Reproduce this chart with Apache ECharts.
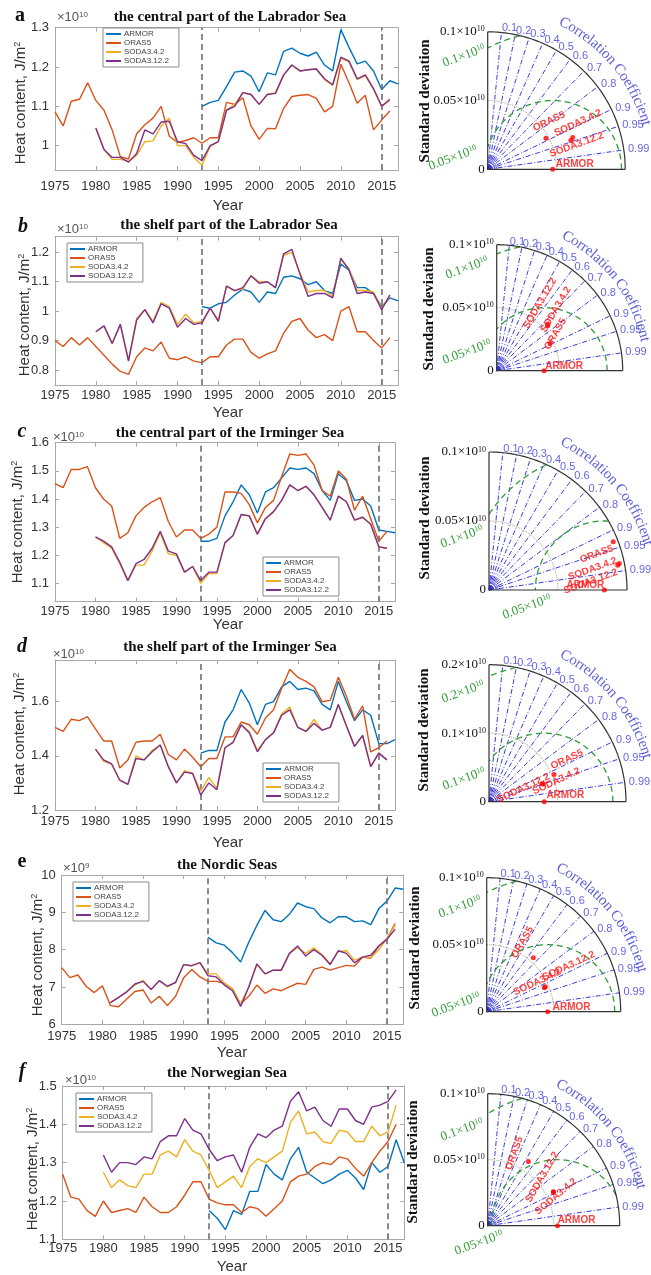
<!DOCTYPE html>
<html><head><meta charset="utf-8">
<script src="https://cdn.jsdelivr.net/npm/echarts@6/dist/echarts.min.js"></script>
<style>html,body{margin:0;padding:0;background:#fff}#c{width:651px;height:1275px}</style>
</head><body><div id="c"></div>
<script>
// ---------------- DATA ----------------
const modelNames = ['ARMOR', 'ORAS5', 'SODA3.4.2', 'SODA3.12.2'];
const armorStart = 1993, orasStart = 1975, sodaStart = 1980, sodaStartE = 1981;
const xTicks = [1975, 1980, 1985, 1990, 1995, 2000, 2005, 2010, 2015];
const dashedYears = [1993, 2015];
const corrTicks = [0.1, 0.2, 0.3, 0.4, 0.5, 0.6, 0.7, 0.8, 0.9, 0.95, 0.99];

// a: central Labrador Sea (x1e10)
const armorA = [1.10,1.11,1.115,1.15,1.187,1.19,1.177,1.137,1.185,1.18,1.24,1.248,1.235,1.228,1.238,1.205,1.19,1.295,1.25,1.208,1.215,1.19,1.143,1.165,1.157];
const orasA = [1.086,1.05,1.113,1.118,1.16,1.115,1.09,1.04,0.972,0.966,1.03,1.053,1.07,1.10,1.024,1.008,1.013,1.02,1.006,1.02,1.02,1.11,1.105,1.122,1.05,1.016,1.044,1.043,1.095,1.125,1.128,1.13,1.12,1.086,1.10,1.207,1.16,1.108,1.128,1.04,1.065,1.088];
const soda342A = [1.045,0.99,0.965,0.965,0.96,0.975,1.01,1.012,1.05,1.07,1.0,1.0,0.97,0.95,0.998,1.01,1.09,1.105,1.135,1.13,1.105,1.13,1.135,1.18,1.205,1.19,1.193,1.195,1.168,1.153,1.222,1.213,1.168,1.178,1.143,1.10,1.115];
const soda3122A = [1.045,0.99,0.97,0.97,0.958,0.98,1.04,1.03,1.06,1.062,1.01,1.005,0.975,0.962,1.0,1.01,1.09,1.10,1.135,1.13,1.105,1.13,1.133,1.18,1.205,1.19,1.193,1.195,1.17,1.155,1.225,1.215,1.17,1.18,1.145,1.10,1.118];
const yTicksA = [1, 1.1, 1.2, 1.3];

// b: shelf Labrador Sea
const armorB = [1.015,1.01,1.025,1.03,1.055,1.075,1.065,1.03,1.065,1.06,1.115,1.12,1.11,1.09,1.10,1.07,1.06,1.16,1.14,1.08,1.08,1.06,1.015,1.045,1.035];
const orasB = [0.90,0.88,0.91,0.885,0.91,0.88,0.85,0.82,0.795,0.785,0.845,0.875,0.865,0.895,0.84,0.835,0.845,0.83,0.825,0.845,0.845,0.885,0.905,0.905,0.86,0.84,0.855,0.865,0.925,0.965,0.975,0.935,0.91,0.92,0.90,1.0,1.015,0.93,0.93,0.90,0.875,0.91];
const soda342B = [0.93,0.95,0.89,0.955,0.835,0.975,1.005,0.965,1.03,1.015,0.955,0.99,0.96,0.965,1.01,0.97,1.085,1.07,1.075,1.12,1.10,1.10,1.08,1.19,1.20,1.13,1.065,1.07,1.07,1.05,1.175,1.145,1.07,1.07,1.065,1.01,1.05];
const soda3122B = [0.93,0.95,0.89,0.955,0.83,0.97,1.005,0.96,1.025,1.01,0.945,0.975,0.955,0.96,1.01,0.965,1.085,1.07,1.08,1.12,1.095,1.10,1.08,1.195,1.21,1.125,1.05,1.06,1.06,1.045,1.18,1.14,1.06,1.065,1.06,1.005,1.055];
const yTicksB = [0.8, 0.9, 1, 1.1, 1.2];

// c: central Irminger Sea
const armorC = [1.25,1.25,1.26,1.34,1.39,1.45,1.415,1.35,1.425,1.44,1.475,1.51,1.505,1.51,1.49,1.43,1.395,1.49,1.465,1.395,1.40,1.375,1.29,1.285,1.28];
const orasC = [1.455,1.44,1.505,1.505,1.515,1.44,1.40,1.375,1.26,1.28,1.34,1.37,1.39,1.405,1.32,1.265,1.29,1.29,1.26,1.275,1.30,1.425,1.425,1.42,1.38,1.315,1.37,1.395,1.48,1.56,1.555,1.56,1.52,1.43,1.41,1.50,1.47,1.36,1.41,1.33,1.25,1.285];
const soda342C = [1.265,1.245,1.225,1.17,1.11,1.165,1.165,1.215,1.28,1.205,1.20,1.14,1.16,1.10,1.135,1.135,1.245,1.27,1.345,1.34,1.275,1.33,1.355,1.395,1.45,1.43,1.445,1.415,1.37,1.325,1.41,1.39,1.325,1.335,1.31,1.23,1.225];
const soda3122C = [1.265,1.25,1.23,1.175,1.11,1.17,1.185,1.225,1.285,1.215,1.205,1.14,1.16,1.11,1.14,1.14,1.245,1.27,1.345,1.34,1.275,1.33,1.355,1.395,1.45,1.43,1.445,1.415,1.37,1.325,1.41,1.39,1.325,1.335,1.31,1.23,1.225];
const yTicksC = [1.1, 1.2, 1.3, 1.4, 1.5, 1.6];

// d: shelf Irminger Sea
const armorD = [1.41,1.42,1.42,1.525,1.57,1.645,1.595,1.515,1.59,1.60,1.655,1.675,1.645,1.65,1.64,1.59,1.57,1.675,1.60,1.53,1.57,1.55,1.445,1.445,1.46];
const orasD = [1.505,1.49,1.535,1.53,1.545,1.50,1.455,1.455,1.355,1.385,1.45,1.455,1.455,1.48,1.405,1.385,1.425,1.395,1.36,1.39,1.39,1.47,1.47,1.525,1.515,1.48,1.54,1.57,1.65,1.72,1.69,1.675,1.655,1.60,1.605,1.69,1.62,1.535,1.585,1.415,1.43,1.455];
const soda342D = [1.425,1.38,1.37,1.31,1.295,1.40,1.385,1.42,1.44,1.36,1.30,1.345,1.335,1.27,1.32,1.28,1.43,1.45,1.515,1.49,1.42,1.46,1.485,1.555,1.58,1.505,1.49,1.535,1.495,1.505,1.59,1.51,1.435,1.475,1.36,1.41,1.385];
const soda3122D = [1.425,1.385,1.37,1.31,1.295,1.39,1.385,1.415,1.44,1.36,1.30,1.34,1.335,1.255,1.30,1.275,1.43,1.45,1.515,1.485,1.415,1.46,1.485,1.55,1.57,1.505,1.49,1.52,1.495,1.505,1.59,1.51,1.435,1.475,1.36,1.41,1.385];
const yTicksD = [1.2, 1.4, 1.6];

// e: Nordic Seas (x1e9)
const armorE = [8.33,8.18,8.12,7.92,7.67,8.2,8.65,9.05,8.8,8.75,8.95,9.25,9.15,9.1,8.85,8.72,8.88,8.88,8.75,8.77,8.67,9.1,9.3,9.65,9.62];
const orasE = [7.52,7.25,7.32,7.02,6.85,7.03,6.5,6.47,6.68,6.88,6.92,6.57,6.75,6.50,6.75,7.25,7.47,7.27,7.15,7.15,7.1,6.95,6.55,6.75,7.05,6.83,6.95,6.9,7.0,7.1,7.07,7.47,7.53,7.45,7.52,7.58,7.56,7.8,7.77,8.1,8.3,8.7];
const soda342E = [6.58,6.72,6.87,7.05,7.18,6.93,7.17,7.0,7.12,7.6,7.57,7.65,7.35,7.35,7.1,6.95,6.55,7.0,7.6,7.35,7.45,7.45,7.9,8.05,7.9,8.05,7.87,7.62,7.95,7.97,7.72,7.8,7.78,8.0,8.3,8.65];
const soda3122E = [6.58,6.72,6.87,7.08,7.15,6.93,7.17,7.02,7.12,7.6,7.57,7.65,7.3,7.27,7.05,6.9,6.48,7.0,7.62,7.35,7.45,7.45,7.9,8.1,7.83,8.0,7.85,7.6,7.97,7.9,7.65,7.8,7.85,8.1,8.28,8.55];
const yTicksE = [6, 7, 8, 9, 10];

// f: Norwegian Sea
const armorF = [1.175,1.155,1.125,1.175,1.165,1.225,1.225,1.295,1.27,1.255,1.31,1.34,1.275,1.26,1.245,1.255,1.27,1.28,1.26,1.23,1.30,1.275,1.29,1.36,1.30];
const orasF = [1.27,1.21,1.205,1.175,1.16,1.20,1.17,1.175,1.18,1.17,1.21,1.185,1.17,1.17,1.185,1.215,1.25,1.25,1.205,1.195,1.19,1.19,1.17,1.185,1.18,1.16,1.18,1.20,1.25,1.265,1.27,1.29,1.30,1.295,1.315,1.31,1.285,1.265,1.30,1.33,1.355,1.40];
const soda342F = [1.275,1.235,1.255,1.24,1.235,1.27,1.27,1.32,1.33,1.315,1.36,1.33,1.32,1.28,1.235,1.25,1.265,1.235,1.29,1.31,1.30,1.315,1.33,1.405,1.435,1.375,1.38,1.355,1.35,1.385,1.38,1.355,1.355,1.395,1.37,1.38,1.45];
const soda3122F = [1.32,1.275,1.30,1.30,1.295,1.315,1.31,1.355,1.37,1.37,1.415,1.385,1.375,1.335,1.305,1.315,1.32,1.275,1.34,1.375,1.365,1.385,1.395,1.46,1.485,1.435,1.445,1.41,1.395,1.44,1.44,1.41,1.40,1.445,1.45,1.46,1.49];
const yTicksF = [1.1, 1.2, 1.3, 1.4, 1.5];

// Taylor diagrams: std (x1e10) and correlation, order = modelNames
const taylorStdA = [0.0473, 0.048, 0.066, 0.064];   const taylorCorrA = [1, 0.883, 0.937, 0.945];
const taylorStdB = [0.0376, 0.0475, 0.054, 0.0549]; const taylorCorrB = [1, 0.89, 0.75, 0.738];
const taylorStdC = [0.0836, 0.0966, 0.0964, 0.095]; const taylorCorrC = [1, 0.932, 0.98, 0.982];
const taylorStdD = [0.0807, 0.103, 0.0834, 0.082];  const taylorCorrD = [1, 0.922, 0.951, 0.948];
const taylorStdE = [0.0455, 0.0532, 0.0466, 0.0475];const taylorCorrE = [1, 0.654, 0.923, 0.92];
const taylorStdF = [0.0529, 0.0575, 0.056, 0.0561]; const taylorCorrF = [1, 0.536, 0.89, 0.888];
const taylorMax = [0.1, 0.1, 0.1, 0.2, 0.1, 0.1];
const rmsRadii = [[0.1, 0.05], [0.1, 0.05], [0.1, 0.05], [0.2, 0.1], [0.1, 0.05], [0.1, 0.05]];

// ---------------- STYLE / LAYOUT ----------------
const SANS = '"Liberation Sans", Arial, sans-serif';
const SERIF = '"Liberation Serif", "Times New Roman", serif';
const modelColors = ['#0072BD', '#D95319', '#EDB120', '#7E2F8E'];
const AX = '#a8a8a8';

const panels = [
  {letter:'a', italic:false, title:'the central part of the Labrador Sea', exp:'10',
   vals:[armorA, orasA, soda342A, soda3122A], sStart:sodaStart, yMin:0.938, yMax:1.3, yTicks:yTicksA,
   box:[55,27.7,343,142.3], lm:10, legend:[103,28], titlePos:[230,17], letterPos:[20,16], expPos:[57,17], yearPos:[228,206], heatPos:[21,103],
   tay:{std:taylorStdA, corr:taylorCorrA, o:[487.7,169.3], R:137.5, green:[[464,56],[453,158]], sd:[425,101],
        lab:[[0,22,-5],[25,10,-14],[25,11,-11],[20,4,6]]}},
  {letter:'b', italic:true, title:'the shelf part of the Labrador Sea', exp:'10',
   vals:[armorB, orasB, soda342B, soda3122B], sStart:sodaStart, yMin:0.749, yMax:1.253, yTicks:yTicksB,
   box:[55,236.7,343,148.3], lm:4, legend:[67,243], titlePos:[229,225], letterPos:[23,227], expPos:[57,229], yearPos:[228,413], heatPos:[25,315],
   tay:{std:taylorStdB, corr:taylorCorrB, o:[496.7,370.7], R:126, green:[[467,268],[467,352]], sd:[429,309],
        lab:[[0,20,-4],[60,11,0],[60,18,-1],[60,14,-17]]}},
  {letter:'c', italic:true, title:'the central part of the Irminger Sea', exp:'10',
   vals:[armorC, orasC, soda342C, soda3122C], sStart:sodaStart, yMin:1.035, yMax:1.6, yTicks:yTicksC,
   box:[55,442.7,340,159], lm:3, legend:[263,557], titlePos:[230,433], letterPos:[22,432], expPos:[53,437], yearPos:[228,625], heatPos:[18,522],
   tay:{std:taylorStdC, corr:taylorCorrC, o:[489,590], R:138, green:[[462,537],[527,607]], sd:[425,518],
        lab:[[0,-19,-5],[20,-20,6],[20,-27,-4],[20,-31,6]]}},
  {letter:'d', italic:true, title:'the shelf part of the Irminger Sea', exp:'10',
   vals:[armorD, orasD, soda342D, soda3122D], sStart:sodaStart, yMin:1.2, yMax:1.754, yTicks:yTicksD,
   box:[55,660,340,150], lm:5, legend:[263,763], titlePos:[230,647], letterPos:[22,647], expPos:[53,654], yearPos:[228,843], heatPos:[20,734],
   tay:{std:taylorStdD, corr:taylorCorrD, o:[489,801.7], R:137, green:[[463,692],[464,779]], sd:[424,730],
        lab:[[0,21,-6],[25,18,-8],[25,13,3],[25,-19,-4]]}},
  {letter:'e', italic:false, title:'the Nordic Seas', exp:'9',
   vals:[armorE, orasE, soda342E, soda3122E], sStart:sodaStartE, yMin:6, yMax:10, yTicks:yTicksE,
   box:[61.7,875,341.6,149.3], lm:6, legend:[73,882], titlePos:[227,865], letterPos:[22,862], expPos:[63,868], yearPos:[232,1053], heatPos:[38,955],
   tay:{std:taylorStdE, corr:taylorCorrE, o:[486.7,1011.7], R:134, green:[[460,907],[456,1005]], sd:[415,948],
        lab:[[0,24,-4],[60,8,-17],[25,-4,-8],[25,30,-9]]}},
  {letter:'f', italic:true, title:'the Norwegian Sea', exp:'10',
   vals:[armorF, orasF, soda342F, soda3122F], sStart:sodaStart, yMin:1.1, yMax:1.5, yTicks:yTicksF,
   box:[62.7,1086,341.6,153.3], lm:3, legend:[76,1093], titlePos:[227,1073], letterPos:[22,1072], expPos:[65,1080], yearPos:[232,1267], heatPos:[33,1169],
   tay:{std:taylorStdF, corr:taylorCorrF, o:[487.7,1225.7], R:132, green:[[462,1130],[479,1243]], sd:[413,1162],
        lab:[[0,19,-5],[70,3,-16],[40,-1,5],[60,7,-17]]}}
];

// ---------------- BUILD ----------------
const grids = [], xAxes = [], yAxes = [], series = [], legends = [], graphics = [];
const fmt = v => String(+(+v).toFixed(3));

function gtext(x, y, text, o) {
  o = o || {};
  graphics.push({type:'text', x:x, y:y, rotation:o.rot || 0, z:100, silent:true,
    style:{text:text, fill:o.color || '#222', fontSize:o.size || 13, fontFamily:o.family || SANS,
      fontWeight:o.weight || 'normal', fontStyle:o.style || 'normal',
      align:o.align || 'center', verticalAlign:'middle',
      rich:{s:{fontSize:Math.round((o.size || 13) * 0.62), fontFamily:o.family || SANS, fill:o.color || '#222',
        fontWeight:o.weight || 'normal', verticalAlign:'top'}}}});
}

function pairs(start, arr) { return arr.map((v, i) => [start + i, v]); }

panels.forEach((p, i) => {
  const [l, t, w, h] = p.box;
  grids.push({left:l, top:t, width:w, height:h});
  const gi = grids.length - 1;
  const xb = xAxes.length;
  const xCommon = {type:'value', gridIndex:gi, min:1975, max:2017, splitLine:{show:false},
    axisLine:{show:true, lineStyle:{color:AX, width:1}},
    axisTick:{show:true, inside:true, length:4, customValues:xTicks, lineStyle:{color:AX}}};
  xAxes.push(Object.assign({}, xCommon, {position:'bottom',
    axisLabel:{customValues:xTicks, formatter:v => String(v), fontSize:13, color:'#333', fontFamily:SANS, margin:p.lm}}));
  xAxes.push(Object.assign({}, xCommon, {position:'top', axisLabel:{show:false}}));
  const yl = yAxes.length;
  const yCommon = {type:'value', gridIndex:gi, min:p.yMin, max:p.yMax, splitLine:{show:false},
    axisLine:{show:true, lineStyle:{color:AX, width:1}},
    axisTick:{show:true, inside:true, length:4, customValues:p.yTicks, lineStyle:{color:AX}}};
  yAxes.push(Object.assign({}, yCommon, {position:'left',
    axisLabel:{customValues:p.yTicks, formatter:fmt, fontSize:13, color:'#333', fontFamily:SANS, margin:6}}));
  yAxes.push(Object.assign({}, yCommon, {position:'right', axisLabel:{show:false}}));

  const starts = [armorStart, orasStart, p.sStart, p.sStart];
  modelNames.forEach((nm, k) => {
    const s = {type:'line', name:nm, xAxisIndex:xb, yAxisIndex:yl, data:pairs(starts[k], p.vals[k]),
      showSymbol:false, symbol:'none', lineStyle:{width:1.4, color:modelColors[k]},
      itemStyle:{color:modelColors[k]}, z:3 + k, animation:false, silent:true};
    if (k === 0) {
      s.markLine = {silent:true, symbol:['none','none'], label:{show:false}, animation:false,
        lineStyle:{type:[6,4], color:'#6f6f6f', width:1.6},
        data:dashedYears.map(y => ({xAxis:y}))};
    }
    series.push(s);
  });

  legends.push({show:true, data:modelNames, left:p.legend[0], top:p.legend[1], orient:'vertical',
    icon:'rect', itemWidth:15, itemHeight:2, itemGap:1, selectedMode:false,
    textStyle:{fontSize:8, color:'#444', fontFamily:SANS, padding:[0,0,0,-2]},
    borderColor:'#8a8a8a', borderWidth:1, padding:[2,10,2,3], backgroundColor:'#fff'});

  gtext(p.titlePos[0], p.titlePos[1], p.title, {size:15, weight:'bold', family:SERIF, color:'#111'});
  gtext(p.letterPos[0], p.letterPos[1], p.letter, {size:20, weight:'bold', style:p.italic ? 'italic' : 'normal', family:SERIF, color:'#111'});
  gtext(p.expPos[0], p.expPos[1], '×10{s|' + p.exp + '}', {size:13, color:'#555', align:'left'});
  gtext(p.yearPos[0], p.yearPos[1], 'Year', {size:15, color:'#333'});
  gtext(p.heatPos[0], p.heatPos[1], 'Heat content, J/m{s|2}', {size:15, color:'#333', rot:Math.PI / 2});
});

// Taylor diagrams
const measureCtx = document.createElement('canvas').getContext('2d');
const ccFont = 15;
measureCtx.font = ccFont + 'px "Liberation Serif"';

function arcPts(r, a0, a1, cx) {
  const pts = [];
  for (let d = a0; d <= a1 + 1e-9; d += 1) {
    const t = d * Math.PI / 180;
    pts.push([(cx || 0) + r * Math.cos(t), r * Math.sin(t)]);
  }
  return pts;
}
function rmsSegments(ref, rr, M) {
  const segs = []; let cur = [];
  for (let d = 0; d <= 180; d += 0.5) {
    const t = d * Math.PI / 180, x = ref + rr * Math.cos(t), y = rr * Math.sin(t);
    if (x >= 0 && x * x + y * y <= M * M) cur.push([x, y]);
    else { if (cur.length > 1) segs.push(cur); cur = []; }
  }
  if (cur.length > 1) segs.push(cur);
  return segs;
}

panels.forEach((p, i) => {
  const T = p.tay, M = taylorMax[i], R = T.R;
  grids.push({left:T.o[0], top:T.o[1] - R, width:R, height:R});
  const gi = grids.length - 1;
  const xi = xAxes.length;
  xAxes.push({type:'value', gridIndex:gi, min:0, max:M, show:false});
  const yi = yAxes.length;
  yAxes.push({type:'value', gridIndex:gi, min:0, max:M, splitLine:{show:false},
    axisLine:{show:false}, axisTick:{show:false},
    axisLabel:{customValues:[0, M / 2, M], margin:3, fontSize:13, fontFamily:SERIF, color:'#111',
      formatter:v => (v === 0 ? '0' : fmt(v) + '×10{s|10}'),
      rich:{s:{fontSize:8, fontFamily:SERIF, color:'#111', verticalAlign:'top'}}}});
  const base = {type:'lines', coordinateSystem:'cartesian2d', xAxisIndex:xi, yAxisIndex:yi,
    polyline:true, silent:true, clip:false, animation:false};

  series.push(Object.assign({}, base, {z:2,
    lineStyle:{color:'#3b3be0', width:1, type:[5,2,1,2], opacity:1},
    data:corrTicks.map(c => ({coords:[[0,0],[M * c, M * Math.sqrt(1 - c * c)]]}))}));
  series.push(Object.assign({}, base, {z:2,
    lineStyle:{color:'#2b2bd8', width:1, opacity:1},
    data:[0.02, 0.035, 0.05, 0.065].map(f => ({coords:arcPts(M * f, 0, 90)}))}));
  series.push(Object.assign({}, base, {z:2,
    lineStyle:{color:'#9c9c80', width:1, type:'dotted', opacity:1},
    data:[{coords:arcPts(M / 2, 0, 90)}]}));
  const segs = [];
  rmsRadii[i].forEach(rr => rmsSegments(T.std[0], rr, M).forEach(s => segs.push({coords:s})));
  series.push(Object.assign({}, base, {z:3,
    lineStyle:{color:'#2f9e35', width:1.3, type:[6,4], opacity:1}, data:segs}));
  series.push(Object.assign({}, base, {z:4,
    lineStyle:{color:'#333', width:1.2, opacity:1},
    data:[{coords:[[0, M], [0, 0], [M, 0]]}, {coords:arcPts(M, 0, 90)}]}));

  series.push({type:'scatter', xAxisIndex:xi, yAxisIndex:yi, symbol:'circle', symbolSize:5, z:10,
    clip:false, silent:true, animation:false, itemStyle:{color:'#ff0000'},
    label:{show:true, position:'inside', formatter:'{b}', color:'#ff1010', fontSize:10, fontWeight:'bold', fontFamily:SANS},
    data:T.std.map((s, k) => {
      const c = T.corr[k];
      return {name:modelNames[k], value:[s * c, s * Math.sqrt(Math.max(0, 1 - c * c))],
        label:{rotate:T.lab[k][0], offset:[T.lab[k][1], T.lab[k][2]]}};
    })});

  series.push({type:'scatter', xAxisIndex:xi, yAxisIndex:yi, symbolSize:0.1, z:6, clip:false, silent:true, animation:false,
    itemStyle:{color:'rgba(0,0,0,0)'},
    label:{show:true, position:'right', distance:0, formatter:'{b}', color:'#3c3cdc', fontSize:11, fontFamily:SANS},
    data:corrTicks.map(c => ({name:String(c), value:[1.03 * M * c, 1.03 * M * Math.sqrt(1 - c * c)]}))});

  const title = 'Correlation Coefficient';
  const rPx = 1.2 * R;
  let cum = 0; const start = 64 * Math.PI / 180;
  const chars = [];
  for (const ch of title) {
    const wch = measureCtx.measureText(ch).width;
    const th = start - (cum + wch / 2) / rPx;
    cum += wch;
    if (ch === ' ') continue;
    chars.push({name:ch, value:[1.2 * M * Math.cos(th), 1.2 * M * Math.sin(th)],
      label:{rotate:th * 180 / Math.PI - 90}});
  }
  series.push({type:'scatter', xAxisIndex:xi, yAxisIndex:yi, symbolSize:0.1, z:6, clip:false, silent:true, animation:false,
    itemStyle:{color:'rgba(0,0,0,0)'},
    label:{show:true, position:'inside', formatter:'{b}', color:'#3434cc', fontSize:ccFont, fontFamily:SERIF},
    data:chars});

  rmsRadii[i].forEach((rr, k) => {
    gtext(T.green[k][0], T.green[k][1], fmt(rr) + '×10{s|10}', {size:13, family:SERIF, color:'#2f9e35', rot:20 * Math.PI / 180});
  });
  gtext(T.sd[0], T.sd[1], 'Standard deviation', {size:15, weight:'bold', family:SERIF, color:'#111', rot:Math.PI / 2});
});

const chart = echarts.init(document.getElementById('c'), null, {renderer:'canvas', width:651, height:1275});
chart.setOption({animation:false, backgroundColor:'#fff', grid:grids, xAxis:xAxes, yAxis:yAxes,
  legend:legends, series:series, graphic:graphics});
</script>
</body></html>
